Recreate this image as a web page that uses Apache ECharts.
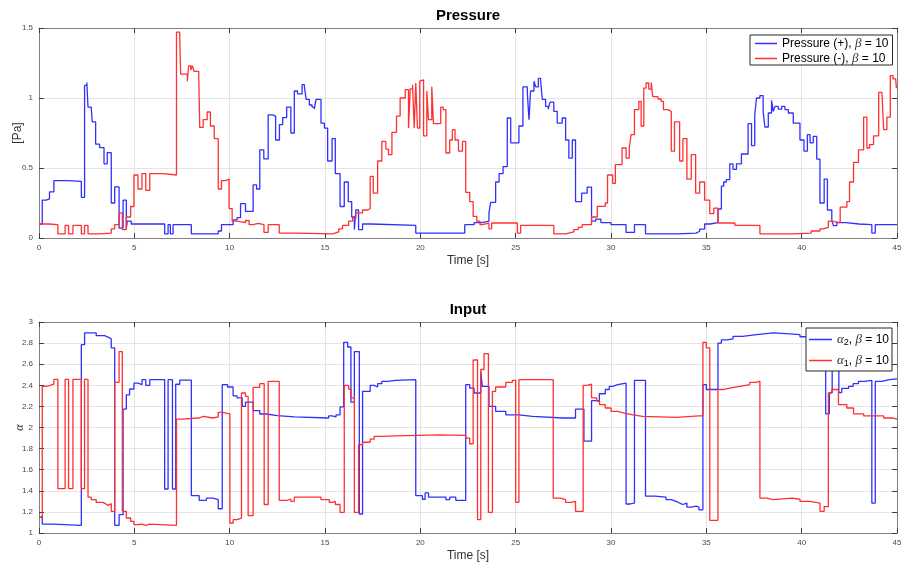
<!DOCTYPE html>
<html>
<head>
<meta charset="utf-8">
<script src="https://cdn.jsdelivr.net/npm/echarts@6/dist/echarts.min.js"></script>
<style>
  html, body { margin: 0; padding: 0; background: #ffffff; }
  #chart { width: 901px; height: 566px; }
</style>
</head>
<body>
<div id="chart"></div>
<script>
// Axis ticks
const timeTicks = [0, 5, 10, 15, 20, 25, 30, 35, 40, 45];
const pressureTicks = [0, 0.5, 1, 1.5];
const alphaTicks = [1, 1.2, 1.4, 1.6, 1.8, 2, 2.2, 2.4, 2.6, 2.8, 3];

// Series names
const namePlus = 'Pressure (+), β = 10';
const nameMinus = 'Pressure (-), β = 10';
const nameAlpha2 = 'α2, β = 10';
const nameAlpha1 = 'α1, β = 10';

// Pressure (+) [Pa]: [time s, value] — held until the next sample
const pressurePlus = [
  [0,0.10],[0.17,0.27],[0.38,0.28],[0.55,0.33],[0.78,0.41],[1.5,0.405],[2.22,0.29],[2.39,1.09],[2.51,1.11],
  [2.57,0.935],[2.74,0.945],[2.79,0.83],[2.97,0.67],[3.18,0.645],[3.41,0.53],[3.58,0.61],[3.79,0.25],[3.97,0.365],
  [4.2,0.07],[4.41,0.27],[4.58,0.065],[4.63,0.12],[4.84,0.10],[6.59,0.03],[6.77,0.095],[6.89,0.03],[7.03,0.095],
  [7.99,0.03],[9.4,0.05],[9.57,0.095],[10.18,0.13],[10.39,0.145],[10.57,0.245],[10.83,0.19],[11.23,0.38],[11.41,0.35],
  [11.58,0.63],[11.79,0.565],[12.02,0.88],[12.25,0.87],[12.41,0.70],[12.61,0.81],[12.78,0.86],[12.99,0.935],[13.21,0.75],
  [13.39,1.05],[13.56,1.03],[13.8,1.095],[13.92,1.08],[14.01,0.99],[14.18,0.95],[14.32,0.935],[14.44,0.92],[14.53,0.99],
  [14.79,0.82],[14.97,0.785],[15.14,0.55],[15.37,0.71],[15.54,0.46],[15.79,0.225],[16.01,0.40],[16.22,0.26],[16.4,0.15],
  [16.54,0.06],[16.62,0.20],[16.76,0.06],[16.97,0.10],[17.41,0.09],[19.76,0.035],[22.33,0.095],[22.82,0.11],[23.22,0.12],
  [23.6,0.18],[23.69,0.255],[23.95,0.40],[24.13,0.46],[24.34,0.51],[24.56,0.857],[24.74,0.68],[25.17,0.80],[25.38,1.08],
  [25.61,1.04],[25.7,0.845],[25.78,1.05],[25.96,1.12],[26.05,1.08],[26.19,1.14],[26.31,1.12],[26.4,0.99],[26.57,0.94],
  [26.71,0.92],[26.8,0.97],[27.0,0.905],[27.18,0.82],[27.44,0.857],[27.62,0.70],[27.79,0.57],[27.97,0.70],[28.14,0.26],
  [28.46,0.32],[28.75,0.364],[28.98,0.12],[29.2,0.135],[29.47,0.11],[30.0,0.095],[30.79,0.04],[31.23,0.095],[31.81,0.03],
  [33.5,0.035],[34.47,0.048],[34.65,0.064],[34.91,0.10],[35.2,0.11],[35.61,0.207],[35.79,0.37],[35.91,0.40],[36.05,0.417],
  [36.23,0.53],[36.4,0.49],[36.58,0.53],[36.84,0.60],[37.19,0.817],[37.37,0.66],[37.54,0.88],[37.63,1.0],[37.81,1.017],
  [37.98,0.905],[38.07,0.793],[38.25,0.893],[38.42,0.983],[38.51,0.905],[38.6,0.94],[38.77,0.92],[38.95,0.94],[39.12,0.917],
  [39.3,0.893],[39.56,0.82],[39.91,0.70],[40.12,0.62],[40.3,0.738],[40.44,0.68],[40.61,0.726],[40.79,0.564],[40.96,0.25],
  [41.18,0.42],[41.35,0.20],[41.58,0.126],[41.67,0.088],[41.84,0.11],[42.33,0.10],[43.0,0.095],[43.68,0.035],[43.86,0.095],
  [45,0.095]
];

// Pressure (-) [Pa]
const pressureMinus = [
  [0,0.10],[0.5,0.095],[0.99,0.03],[1.37,0.09],[1.55,0.03],[1.78,0.09],[2.22,0.03],[2.39,0.09],[2.57,0.03],[3.2,0.035],
  [3.79,0.065],[3.97,0.095],[4.2,0.18],[4.37,0.06],[4.58,0.15],[4.81,0.225],[4.98,0.45],[5.19,0.35],[5.4,0.46],[5.6,0.34],
  [5.81,0.46],[6.5,0.45],[7.21,1.47],[7.38,1.43],[7.43,1.17],[7.78,1.12],[7.85,1.23],[7.96,1.20],[8.05,1.23],[8.13,1.19],
  [8.38,1.14],[8.43,0.79],[8.61,0.845],[8.82,0.90],[8.99,0.80],[9.19,0.71],[9.4,0.35],[9.57,0.41],[9.78,0.42],[9.97,0.21],
  [10.13,0.12],[10.39,0.11],[10.83,0.125],[11.02,0.095],[11.23,0.105],[11.5,0.095],[11.8,0.04],[12.02,0.095],[12.6,0.035],
  [13.5,0.03],[15.4,0.043],[15.72,0.065],[15.92,0.09],[16.24,0.12],[16.45,0.14],[16.62,0.18],[16.97,0.20],[17.23,0.21],
  [17.37,0.44],[17.53,0.32],[17.76,0.55],[17.98,0.69],[18.19,0.635],[18.33,0.595],[18.51,0.755],[18.75,0.87],[18.94,1.0],
  [19.21,1.06],[19.38,0.785],[19.47,1.065],[19.59,1.095],[19.68,0.785],[19.76,1.107],[19.85,0.785],[19.97,1.12],[20.06,1.13],
  [20.17,0.73],[20.34,1.05],[20.43,0.845],[20.6,1.08],[20.69,0.817],[21.07,0.935],[21.2,0.917],[21.34,0.607],[21.54,0.70],
  [21.68,0.774],[21.82,0.70],[22.0,0.62],[22.21,0.69],[22.38,0.326],[22.59,0.26],[22.77,0.155],[22.96,0.12],[23.13,0.095],
  [23.25,0.107],[23.6,0.065],[23.74,0.107],[25.09,0.035],[25.26,0.09],[27.0,0.03],[27.62,0.043],[28.05,0.06],[28.28,0.076],
  [28.49,0.095],[28.98,0.15],[29.28,0.226],[29.7,0.25],[29.82,0.45],[30.09,0.39],[30.23,0.524],[30.58,0.643],[30.79,0.57],
  [30.96,0.643],[31.05,0.738],[31.23,0.917],[31.46,0.976],[31.58,0.80],[31.72,1.07],[31.84,1.107],[31.98,1.064],[32.11,1.11],
  [32.19,1.01],[32.46,0.993],[32.63,0.976],[32.75,0.917],[32.98,0.905],[33.16,0.62],[33.33,0.83],[33.6,0.55],[33.77,0.71],
  [33.98,0.42],[34.21,0.595],[34.44,0.32],[34.65,0.40],[34.91,0.27],[35.18,0.174],[35.39,0.214],[35.61,0.107],[36.5,0.09],
  [37.81,0.03],[39.5,0.035],[40.5,0.05],[40.96,0.065],[41.14,0.076],[41.4,0.12],[41.58,0.11],[42.02,0.22],[42.37,0.26],
  [42.51,0.40],[42.72,0.54],[42.98,0.63],[43.25,0.864],[43.42,0.643],[43.56,0.667],[43.77,0.73],[44.04,1.04],[44.21,1.03],
  [44.3,0.774],[44.47,0.864],[44.65,1.16],[44.79,1.136],[44.93,1.126],[44.97,1.07],[45,1.07]
];

// Input α2
const alpha2 = [
  [0,1.15],[0.17,1.085],[0.73,1.073],[2.22,2.785],[2.39,2.896],[3.0,2.87],[3.44,2.855],[3.65,2.84],[3.79,2.754],[3.97,1.073],
  [4.2,1.174],[4.41,2.175],[4.58,2.31],[4.75,2.365],[4.98,2.42],[5.19,2.406],[5.4,2.453],[5.6,2.40],[5.81,2.453],[6.59,1.417],
  [6.77,2.453],[7.0,1.417],[7.17,2.41],[7.38,2.45],[7.99,1.354],[8.4,1.31],[8.78,1.33],[9.13,1.316],[9.4,1.23],[9.61,2.406],
  [9.89,2.384],[10.18,2.30],[10.39,2.28],[10.66,2.2],[10.83,2.24],[11.23,2.16],[11.58,2.128],[11.93,2.112],[12.5,2.10],
  [13.4,2.09],[15.19,2.11],[15.37,2.10],[15.58,2.12],[15.79,2.195],[15.98,2.807],[16.19,2.763],[16.36,2.24],[16.54,2.72],
  [16.8,1.18],[16.97,2.343],[17.37,2.40],[17.58,2.384],[17.76,2.415],[17.98,2.437],[18.28,2.447],[18.72,2.453],[19.76,1.354],
  [20.11,1.32],[20.25,1.38],[20.43,1.34],[21.34,1.316],[21.54,1.34],[21.86,1.31],[22.38,2.406],[22.59,2.374],[22.82,2.327],
  [23.17,2.53],[23.25,2.39],[23.6,2.2],[23.95,2.153],[24.48,2.12],[25.17,2.106],[25.87,2.09],[27.5,2.09],[28.14,2.175],
  [28.58,1.87],[28.98,2.254],[29.39,2.32],[29.7,2.36],[29.91,2.39],[30.09,2.406],[30.35,2.42],[30.79,1.275],[31.0,1.284],
  [31.23,2.447],[31.81,1.35],[32.3,1.345],[32.6,1.34],[32.89,1.316],[33.16,1.30],[33.42,1.284],[33.6,1.27],[33.77,1.284],
  [33.98,1.246],[34.21,1.255],[34.47,1.246],[34.61,1.22],[34.82,2.406],[35.0,2.36],[35.61,2.80],[35.79,2.83],[36.1,2.84],
  [36.4,2.864],[36.9,2.88],[37.63,2.896],[38.5,2.89],[39.2,2.88],[39.91,2.86],[40.61,2.84],[41.26,2.13],[41.45,2.33],
  [41.6,2.85],[41.95,2.33],[42.1,2.37],[42.46,2.39],[42.7,2.415],[42.98,2.437],[43.3,2.447],[43.68,1.284],[43.86,2.437],
  [44.2,2.453],[44.6,2.46],[45,2.46]
];

// Input α1
const alpha1 = [
  [0,1.15],[0.17,2.39],[0.38,2.397],[0.55,2.41],[0.78,2.456],[0.99,1.42],[1.37,2.456],[1.55,1.42],[1.78,2.456],[2.22,1.42],
  [2.39,2.456],[2.57,1.34],[2.74,1.316],[3.0,1.29],[3.35,1.278],[3.49,1.262],[3.62,1.278],[3.79,1.205],[3.97,2.428],[4.2,2.72],
  [4.37,1.205],[4.58,1.142],[4.81,1.11],[4.98,1.08],[5.19,1.085],[5.4,1.073],[5.6,1.085],[5.81,1.073],[7.21,2.08],[7.47,2.09],
  [8.4,2.106],[8.61,2.09],[9.13,2.10],[9.4,2.144],[9.62,2.13],[10.01,1.095],[10.18,1.126],[10.39,1.142],[10.62,2.327],
  [10.83,2.295],[10.97,1.164],[11.23,2.38],[11.58,2.415],[11.81,1.27],[12.02,2.437],[12.6,1.31],[12.99,1.32],[13.21,1.30],
  [13.39,1.34],[14.79,1.316],[15.23,1.29],[15.37,1.30],[15.54,1.27],[15.79,1.196],[16.01,2.40],[16.24,2.365],[16.36,2.28],
  [16.54,1.196],[16.76,1.837],[16.97,1.86],[17.37,1.89],[17.58,1.916],[17.98,1.92],[18.72,1.93],[21.0,1.925],[22.38,1.90],
  [22.59,1.846],[22.77,2.64],[23.0,1.126],[23.17,2.55],[23.34,2.70],[23.57,1.196],[23.78,2.343],[23.95,2.384],[24.48,2.428],
  [24.83,2.447],[25.0,1.29],[25.17,2.453],[26.97,1.33],[27.36,1.316],[27.62,1.29],[27.9,1.30],[28.14,1.205],[28.54,2.40],
  [28.75,2.41],[28.98,2.28],[29.25,2.25],[29.4,2.216],[29.7,2.185],[30.0,2.153],[30.35,2.137],[30.7,2.12],[31.14,2.106],
  [31.67,2.096],[33.42,2.11],[34.61,2.11],[34.82,2.807],[35.0,2.754],[35.18,1.12],[35.61,2.36],[35.88,2.374],[36.23,2.39],
  [36.75,2.406],[37.28,2.428],[37.63,2.44],[37.81,1.33],[38.16,1.316],[38.5,1.33],[39.5,1.32],[39.91,1.30],[40.44,1.284],
  [40.96,1.205],[41.18,1.25],[41.4,2.327],[41.58,2.36],[41.93,2.216],[42.37,2.185],[42.72,2.13],[43.25,2.11],[44.3,2.09],
  [44.8,2.08],[45,2.08]
];

const FONT = 'Liberation Sans, Arial, Helvetica, sans-serif';
const SERIF = 'Liberation Serif, DejaVu Serif, serif';
const BLUE = '#3030ff';
const RED = '#ff3030';

function tickInterval(ticks) { return ticks[1] - ticks[0]; }

function xAxisFor(gridIndex, position, primary) {
  return {
    type: 'value', gridIndex: gridIndex, position: position,
    min: timeTicks[0], max: timeTicks[timeTicks.length - 1], interval: tickInterval(timeTicks),
    axisLine: { show: true, onZero: false, lineStyle: { color: '#808080', width: 1 } },
    axisTick: { show: true, inside: true, length: 5, lineStyle: { color: '#3c3c3c', width: 1 } },
    axisLabel: { show: primary, fontSize: 8, color: '#4a4a4a', margin: 6, fontFamily: FONT },
    splitLine: { show: primary, lineStyle: { color: '#e4e4e4', width: 1 } },
    name: primary ? 'Time [s]' : '', nameLocation: 'middle', nameGap: 17, nameMoveOverlap: false,
    nameTextStyle: { fontSize: 12, color: '#333333', fontFamily: FONT }
  };
}

function yAxisFor(gridIndex, position, primary, ticks, name, nameStyle, nameGap) {
  return {
    type: 'value', gridIndex: gridIndex, position: position,
    min: ticks[0], max: ticks[ticks.length - 1], interval: tickInterval(ticks),
    axisLine: { show: true, onZero: false, lineStyle: { color: '#808080', width: 1 } },
    axisTick: { show: true, inside: true, length: 5, lineStyle: { color: '#3c3c3c', width: 1 } },
    axisLabel: { show: primary, fontSize: 8, color: '#4a4a4a', margin: 6, fontFamily: FONT,
      formatter: v => String(Math.round(v * 100) / 100) },
    splitLine: { show: primary, lineStyle: { color: '#e4e4e4', width: 1 } },
    name: primary ? name : '', nameLocation: 'middle', nameGap: nameGap, nameMoveOverlap: false,
    nameTextStyle: nameStyle
  };
}

function stepSeries(name, data, color, xi, yi) {
  return {
    name: name, type: 'line', step: 'end', data: data,
    xAxisIndex: xi, yAxisIndex: yi,
    symbol: 'none', showSymbol: false, silent: true,
    color: color, itemStyle: { color: color }, lineStyle: { color: color, width: 1.3 },
    animation: false
  };
}

// Legend label: Greek letters in italic serif, digit after α as subscript
function legendLabel(name) {
  let out = '';
  for (let i = 0; i < name.length; i++) {
    const ch = name.charAt(i);
    if (ch === 'α' || ch === 'β') {
      out += '{g|' + ch + '}';
      if (ch === 'α' && /[0-9]/.test(name.charAt(i + 1))) {
        out += '{s|' + name.charAt(i + 1) + '}';
        i++;
      }
    } else {
      let j = i;
      while (j < name.length && name.charAt(j) !== 'α' && name.charAt(j) !== 'β') j++;
      out += '{t|' + name.slice(i, j) + '}';
      i = j - 1;
    }
  }
  return out;
}

function legendFor(items, left, top, padding, gap, itemWidth) {
  return {
    data: items.map(it => ({ name: it[0], itemStyle: { color: it[1], borderWidth: 0, opacity: 1 } })),
    orient: 'vertical', selectedMode: false,
    left: left, top: top, padding: padding, itemGap: gap,
    icon: 'rect', itemWidth: itemWidth, itemHeight: 1.5,
    borderColor: '#262626', borderWidth: 1, backgroundColor: '#ffffff',
    formatter: legendLabel,
    textStyle: {
      fontSize: 12, color: '#000000', fontFamily: FONT,
      rich: {
        t: { fontSize: 12, color: '#000000', fontFamily: FONT },
        g: { fontSize: 13, color: '#333333', fontFamily: SERIF, fontStyle: 'italic' },
        s: { fontSize: 9, color: '#000000', fontFamily: FONT, verticalAlign: 'bottom', padding: [6, 0, 0, 0] }
      }
    }
  };
}

const chart = echarts.init(document.getElementById('chart'), null, { renderer: 'canvas' });
chart.setOption({
  animation: false,
  backgroundColor: '#ffffff',
  grid: [
    { left: 39, top: 28, right: 4, height: 210, containLabel: false, outerBoundsMode: 'none' },
    { left: 39, top: 322, right: 4, height: 211, containLabel: false, outerBoundsMode: 'none' }
  ],
  xAxis: [
    xAxisFor(0, 'bottom', true),
    xAxisFor(0, 'top', false),
    xAxisFor(1, 'bottom', true),
    xAxisFor(1, 'top', false)
  ],
  yAxis: [
    yAxisFor(0, 'left', true, pressureTicks, '[Pa]', { fontSize: 12, color: '#333333', fontFamily: FONT }, 15),
    yAxisFor(0, 'right', false, pressureTicks, '', {}, 0),
    yAxisFor(1, 'left', true, alphaTicks, 'α', { fontSize: 12, color: '#333333', fontFamily: SERIF, fontStyle: 'italic' }, 13),
    yAxisFor(1, 'right', false, alphaTicks, '', {}, 0)
  ],
  legend: [
    legendFor([[namePlus, BLUE], [nameMinus, RED]], 750, 35, [2, 4, 0, 5], 2, 22),
    legendFor([[nameAlpha2, BLUE], [nameAlpha1, RED]], 806, 328, [5, 3, 3, 3], 7, 23)
  ],
  graphic: [
    { type: 'text', x: 468, y: 16, style: { text: 'Pressure', align: 'center', verticalAlign: 'middle',
      font: 'bold 15px ' + FONT, fill: '#000000' } },
    { type: 'text', x: 468, y: 310, style: { text: 'Input', align: 'center', verticalAlign: 'middle',
      font: 'bold 15px ' + FONT, fill: '#000000' } }
  ],
  series: [
    stepSeries(namePlus, pressurePlus, BLUE, 0, 0),
    stepSeries(nameMinus, pressureMinus, RED, 0, 0),
    stepSeries(nameAlpha2, alpha2, BLUE, 2, 2),
    stepSeries(nameAlpha1, alpha1, RED, 2, 2)
  ]
});
</script>
</body>
</html>
